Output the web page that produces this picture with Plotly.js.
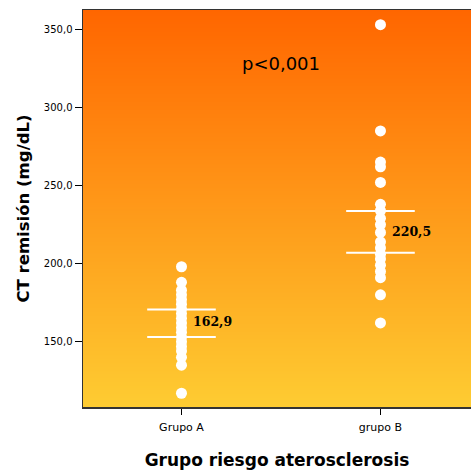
<!DOCTYPE html>
<html>
<head>
<meta charset="utf-8">
<script src="https://cdn.plot.ly/plotly-3.0.1.min.js"></script>
<style>html,body{margin:0;padding:0;background:#fff;}#chart{width:471px;height:470px;}</style>
</head>
<body>
<div id="chart"></div>
<script>
// ---- data ----
const groupLabels = ['Grupo A', 'grupo B'];
const groupPos = [0, 1];
const groupA = [198, 188, 183, 180, 177, 174, 171, 168, 165, 162, 159, 156, 153, 150, 147, 144, 140, 135, 117];
const groupB = [353, 285, 265, 262, 252, 238, 234, 229, 225, 220, 214, 210, 206, 203, 199, 195, 191, 180, 162];
const means = [162.9, 220.5];
const meanLabels = ['162,9', '220,5'];
const ciUpper = [170.7, 233.7];
const ciLower = [153.0, 207.0];
const yTickVals = [150, 200, 250, 300, 350];
const yTickText = ['150,0', '200,0', '250,0', '300,0', '350,0'];
const xRange = [-0.495, 1.455];
const yRange = [108.2, 362.4];

const bg = {
  type: 'heatmap',
  x: xRange, y: yRange,
  z: [[0, 0], [1, 1]],
  zsmooth: 'best',
  colorscale: [[0, 'rgb(254,204,50)'], [1, 'rgb(255,102,0)']],
  showscale: false, hoverinfo: 'skip'
};

const ptsA = {
  type: 'scatter', mode: 'markers',
  x: groupA.map(() => groupPos[0]), y: groupA,
  marker: {color: '#ffffff', size: 11}, hoverinfo: 'y'
};
const ptsB = {
  type: 'scatter', mode: 'markers',
  x: groupB.map(() => groupPos[1]), y: groupB,
  marker: {color: '#ffffff', size: 11}, hoverinfo: 'y'
};
const ciUp = {
  type: 'scatter', mode: 'markers', x: groupPos, y: ciUpper,
  marker: {symbol: 'line-ew', size: 49, line: {color: '#ffffff', width: 2}}
};
const ciLo = {
  type: 'scatter', mode: 'markers', x: groupPos, y: ciLower,
  marker: {symbol: 'line-ew', size: 49, line: {color: '#ffffff', width: 2}}
};

const annotations = groupPos.map((p, i) => ({
  x: p, y: means[i], xref: 'x', yref: 'y',
  text: meanLabels[i], showarrow: false,
  xanchor: 'left', yanchor: 'middle', xshift: 10,
  font: {family: 'DejaVu Serif', size: 12.5, color: '#000', weight: 'bold'}
}));

const layout = {
  width: 471, height: 470,
  margin: {l: 83, r: 0, t: 10, b: 63, pad: 0},
  paper_bgcolor: '#ffffff',
  plot_bgcolor: '#ffffff',
  showlegend: false,
  title: {
    text: 'p&lt;0,001', x: 281/471, y: 1 - 64/470, xref: 'container', yref: 'container',
    xanchor: 'center', yanchor: 'middle',
    font: {family: 'DejaVu Sans', size: 18, color: '#000'}
  },
  xaxis: {
    range: xRange, tickvals: groupPos, ticktext: groupLabels,
    ticks: 'outside', ticklen: 6, tickwidth: 1.5, tickcolor: '#000',
    ticklabelstandoff: 3,
    showline: true, linecolor: '#333', linewidth: 1.5, mirror: true,
    showgrid: false, zeroline: false,
    tickfont: {family: 'DejaVu Sans', size: 11, color: '#000'},
    title: {text: 'Grupo riesgo aterosclerosis', standoff: 24,
      font: {family: 'DejaVu Sans', size: 17, color: '#000', weight: 'bold'}}
  },
  yaxis: {
    range: yRange, tickvals: yTickVals, ticktext: yTickText,
    ticks: 'outside', ticklen: 7, tickwidth: 1.5, tickcolor: '#000',
    showline: true, linecolor: '#333', linewidth: 1.5, mirror: false,
    showgrid: false, zeroline: false,
    tickfont: {family: 'DejaVu Sans', size: 10, color: '#000'},
    title: {text: 'CT remisión (mg/dL)', standoff: 10,
      font: {family: 'DejaVu Sans', size: 16.5, color: '#000', weight: 'bold'}}
  },
  annotations: annotations
};

Plotly.newPlot('chart', [bg, ciUp, ciLo, ptsA, ptsB], layout, {displayModeBar: false, staticPlot: true});
</script>
</body>
</html>
